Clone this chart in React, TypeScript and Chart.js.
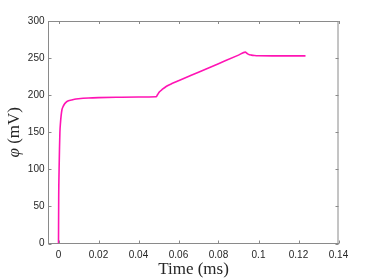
import React, { useEffect, useRef } from "react";
import { Chart, registerables } from "chart.js";

Chart.register(...registerables);

const timeMs = [0, 0.0001, 0.0003, 0.0005, 0.0007, 0.001, 0.0013, 0.0017, 0.0022, 0.003, 0.004, 0.005, 0.0065, 0.008, 0.01, 0.015, 0.02, 0.03, 0.04, 0.0488, 0.0495, 0.0505, 0.052, 0.054, 0.057, 0.06, 0.07, 0.08, 0.09, 0.0934, 0.0942, 0.095, 0.0965, 0.098, 0.1, 0.11, 0.1235];
const phiMv = [0, 60, 100, 128, 150, 163, 172, 180, 184, 188, 191, 192.5, 193.5, 194.5, 195.2, 196.2, 196.7, 197.2, 197.5, 197.8, 200.5, 204.5, 208, 212, 216, 219.5, 231, 242.5, 254, 258, 256.5, 255, 254, 253.5, 253.2, 253, 253];
const xTicks = [0, 0.02, 0.04, 0.06, 0.08, 0.1, 0.12, 0.14];
const yTicks = [0, 50, 100, 150, 200, 250, 300];
const xTitle = "Time (ms)";
const yTitleSymbol = "φ";
const yTitleUnit = " (mV)";

const AXIS_COLOR = "#8a8a8a";
const TEXT_COLOR = "#262626";

const boxPlugin = {
  id: "matlabBox",
  afterDraw(chart: any) {
    const { ctx, chartArea } = chart;
    const { left, right, top, bottom } = chartArea;
    const xs = chart.scales.x;
    const ys = chart.scales.y;
    ctx.save();
    ctx.strokeStyle = AXIS_COLOR;
    ctx.lineWidth = 1;
    ctx.beginPath();
    ctx.moveTo(left, top + 0.5);
    ctx.lineTo(right, top + 0.5);
    ctx.moveTo(right - 0.5, top);
    ctx.lineTo(right - 0.5, bottom);
    const tl = 3;
    xTicks.forEach((v) => {
      const px = Math.round(xs.getPixelForValue(v)) + 0.5;
      ctx.moveTo(px, bottom);
      ctx.lineTo(px, bottom - tl);
      ctx.moveTo(px, top);
      ctx.lineTo(px, top + tl);
    });
    yTicks.forEach((v) => {
      const py = Math.round(ys.getPixelForValue(v)) + 0.5;
      ctx.moveTo(left, py);
      ctx.lineTo(left + tl, py);
      ctx.moveTo(right, py);
      ctx.lineTo(right - tl, py);
    });
    ctx.stroke();

    ctx.fillStyle = TEXT_COLOR;
    ctx.font = '17px "Liberation Serif"';
    ctx.textAlign = "center";
    ctx.textBaseline = "middle";
    ctx.fillText(xTitle, (left + right) / 2, 270);

    ctx.translate(15, (top + bottom) / 2);
    ctx.rotate(-Math.PI / 2);
    ctx.font = 'italic 17px "Liberation Serif"';
    const w1 = ctx.measureText(yTitleSymbol).width;
    ctx.font = '17px "Liberation Serif"';
    const w2 = ctx.measureText(yTitleUnit).width;
    const start = -(w1 + w2) / 2;
    ctx.textAlign = "left";
    ctx.font = 'italic 17px "Liberation Serif"';
    ctx.fillText(yTitleSymbol, start, 0);
    ctx.font = '17px "Liberation Serif"';
    ctx.fillText(yTitleUnit, start + w1, 0);
    ctx.restore();
  },
};

export default function App() {
  const ref = useRef<HTMLCanvasElement | null>(null);
  useEffect(() => {
    document.body.style.margin = "0";
    const chart = new Chart(ref.current as HTMLCanvasElement, {
      type: "scatter",
      data: {
        datasets: [
          {
            data: timeMs.map((t, i) => ({ x: t, y: phiMv[i] })),
            showLine: true,
            borderColor: "#ff14b4",
            borderWidth: 1.6,
            pointRadius: 0,
            cubicInterpolationMode: "monotone",
          },
        ],
      },
      options: {
        animation: false,
        responsive: false,
        maintainAspectRatio: false,
        layout: { padding: { top: 21, right: 35.5, left: 0, bottom: 0 } },
        plugins: { legend: { display: false }, tooltip: { enabled: false } },
        scales: {
          x: {
            type: "linear",
            min: -0.005,
            max: 0.14,
            afterBuildTicks: (s: any) => {
              s.ticks = xTicks.map((v) => ({ value: v }));
            },
            afterFit: (s: any) => {
              s.height = 36.5;
            },
            grid: { display: true, drawOnChartArea: false, drawTicks: false },
            border: { display: true, color: AXIS_COLOR, width: 1 },
            ticks: {
              padding: 6,
              color: TEXT_COLOR,
              font: { family: '"Liberation Sans"', size: 10 },
              maxRotation: 0,
              callback: (v: any) => String(Math.round(Number(v) * 100) / 100),
            },
          },
          y: {
            type: "linear",
            min: 0,
            max: 300,
            afterBuildTicks: (s: any) => {
              s.ticks = yTicks.map((v) => ({ value: v }));
            },
            afterFit: (s: any) => {
              s.width = 48.5;
            },
            grid: { display: true, drawOnChartArea: false, drawTicks: false },
            border: { display: true, color: AXIS_COLOR, width: 1 },
            ticks: {
              padding: 4,
              color: TEXT_COLOR,
              font: { family: '"Liberation Sans"', size: 10 },
            },
          },
        },
      },
      plugins: [boxPlugin],
    } as any);
    return () => chart.destroy();
  }, []);
  return (
    <div style={{ position: "absolute", left: 0, top: 0, width: 374, height: 280, background: "#fff" }}>
      <canvas ref={ref} width={374} height={280} style={{ width: 374, height: 280 }} />
    </div>
  );
}
